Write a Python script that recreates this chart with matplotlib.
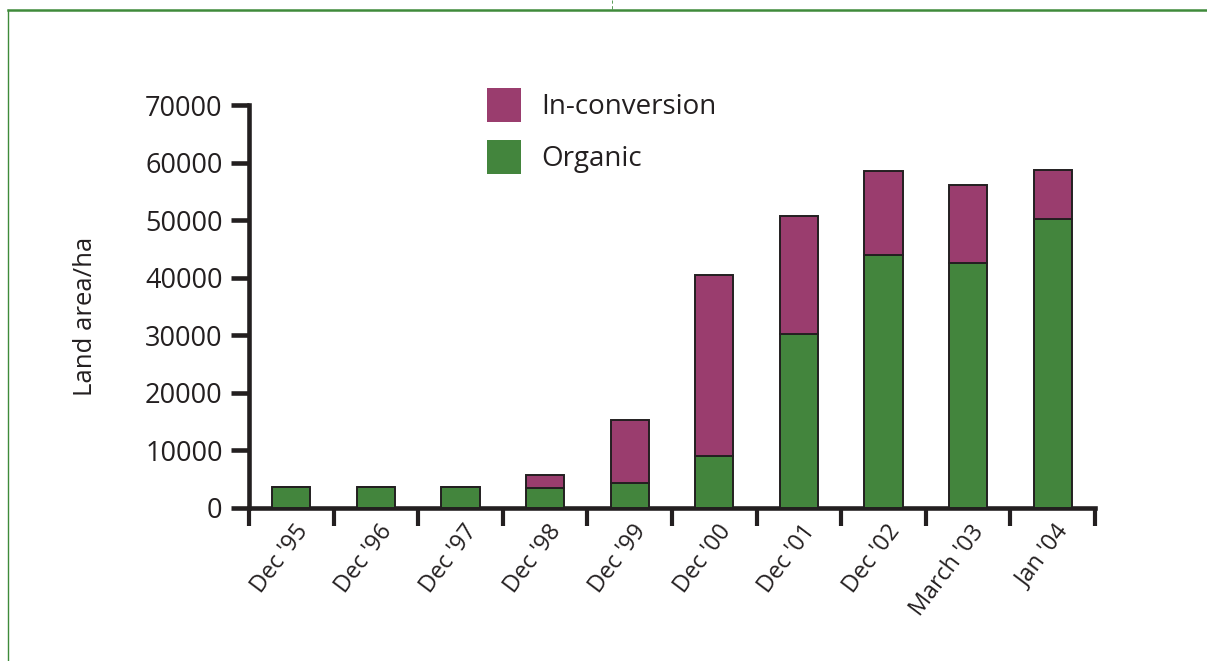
import matplotlib.pyplot as plt
import matplotlib.transforms as mtransforms
import numpy as np
from matplotlib.patches import Patch
from matplotlib.lines import Line2D

# Land area under organic management (ha)
periods = ["Dec '95", "Dec '96", "Dec '97", "Dec '98", "Dec '99",
           "Dec '00", "Dec '01", "Dec '02", "March '03", "Jan '04"]
organic = [3650, 3650, 3650, 3480, 4400, 9100, 30200, 43900, 42500, 50200]
in_conversion = [0, 0, 0, 2200, 10850, 31300, 20500, 14600, 13600, 8500]

green = '#43853d'
purple = '#9a3d6e'
ink = '#231f20'

plt.rcParams['font.family'] = ['Open Sans', 'DejaVu Sans']

fig = plt.figure(figsize=(12.07, 6.61), dpi=100)
ax = fig.add_axes([249 / 1207, 1 - 508 / 661, (1095 - 249) / 1207, (508 - 105) / 661])

x = np.arange(len(periods))
ax.bar(x, organic, width=0.45, color=green, edgecolor=ink, linewidth=1.4, zorder=3)
ax.bar(x, in_conversion, width=0.45, bottom=organic, color=purple,
       edgecolor=ink, linewidth=1.4, zorder=3)

ax.set_xlim(-0.5, len(periods) - 0.5)
ax.set_ylim(0, 70000)

for s in ['top', 'right']:
    ax.spines[s].set_visible(False)
for s in ['left', 'bottom']:
    ax.spines[s].set_linewidth(3.3)
    ax.spines[s].set_color(ink)
    ax.spines[s].set_capstyle('projecting')

# y axis
ax.set_yticks(np.arange(0, 70001, 10000))
ax.tick_params(axis='y', length=13, width=3.3, color=ink, pad=6,
               labelsize=19.5, labelcolor=ink)
ax.set_ylabel('Land area/ha', fontsize=18.5, color=ink)
ax.yaxis.set_label_coords(-0.179, 0.476)

# x axis: ticks at the boundaries, labels at bar centres
ax.set_xticks(np.arange(-0.5, len(periods), 1.0))
ax.set_xticklabels([])
ax.tick_params(axis='x', which='major', length=13, width=3, color=ink)
ax.set_xticks(x, minor=True)
ax.set_xticklabels(periods, minor=True, rotation=53, ha='right',
                   rotation_mode='anchor', fontsize=16.8, color=ink)
ax.tick_params(axis='x', which='minor', length=0, pad=14)
shift = mtransforms.ScaledTranslation(12 / 100, 0, fig.dpi_scale_trans)
for lbl in ax.get_xticklabels(minor=True):
    lbl.set_verticalalignment('center')
    lbl.set_transform(lbl.get_transform() + shift)

handles = [Patch(facecolor=purple, edgecolor='none', label='In-conversion'),
           Patch(facecolor=green, edgecolor='none', label='Organic')]
ax.legend(handles=handles, loc='upper left', bbox_to_anchor=(0.281, 1.042),
          frameon=False, fontsize=20, handlelength=1.22, handleheight=1.5,
          handletextpad=0.75, labelspacing=0.66, borderpad=0, borderaxespad=0,
          labelcolor=ink)

# green page frame
fig.add_artist(Line2D([8 / 1207, 8 / 1207], [0, 1 - 10 / 661],
                      color='#3f8a3a', linewidth=1.0))
fig.add_artist(Line2D([8 / 1207, 1], [1 - 10 / 661, 1 - 10 / 661],
                      color='#3f8a3a', linewidth=1.8))
fig.add_artist(Line2D([612 / 1207, 612 / 1207], [1 - 9 / 661, 1],
                      color='#3f8a3a', linewidth=0.6, linestyle=(0, (4, 3))))

fig.savefig('out.png', dpi=100)
